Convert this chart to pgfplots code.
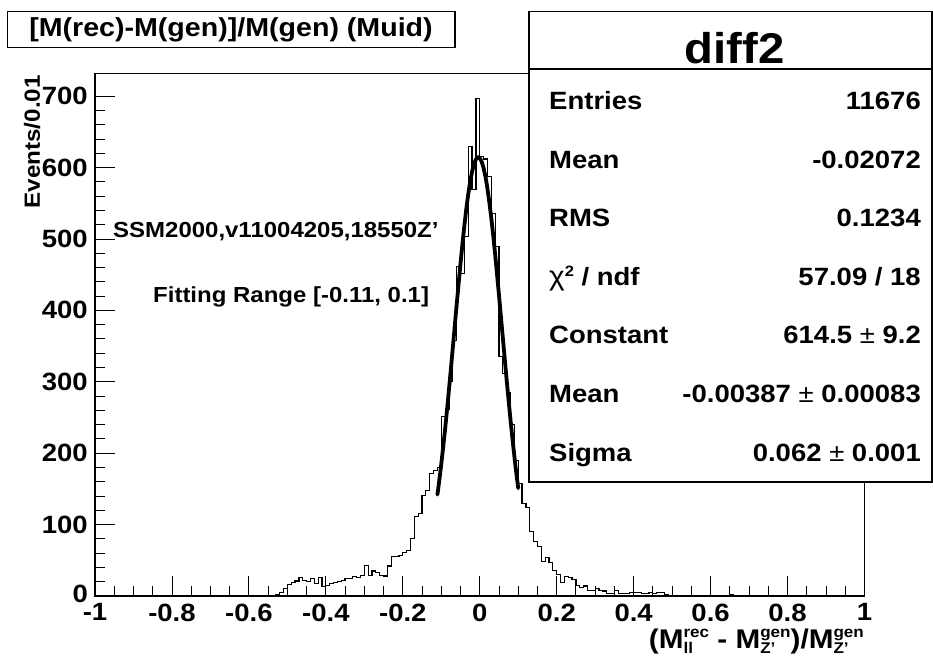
\documentclass[border=0pt]{standalone}
\usepackage{fontspec}
\setmainfont{Liberation Sans}[FakeStretch=1.1]
\usepackage{pgfplots}
\pgfplotsset{compat=1.18}
\newcommand{\fs}[1]{\fontsize{#1}{#1}\selectfont}
\newcommand{\MS}[2]{M\raisebox{-5.5pt}{\fs{15.5}\bfseries\renewcommand\arraystretch{1.06}\begin{tabular}[b]{@{}l@{}}#1\\#2\end{tabular}}}
\pgfplotstableread{
x y
-0.56 0
-0.55 0
-0.54 0
-0.53 2
-0.52 5
-0.51 10
-0.50 16
-0.49 19
-0.48 21
-0.47 26
-0.46 22
-0.45 20
-0.44 25
-0.43 18
-0.42 26
-0.41 13
-0.40 15
-0.39 18
-0.38 19
-0.37 20
-0.36 22
-0.35 24
-0.34 25
-0.33 27
-0.32 26
-0.31 29
-0.30 43
-0.29 29
-0.28 35
-0.27 33
-0.26 29
-0.25 28
-0.24 42
-0.23 55
-0.22 55
-0.21 57
-0.20 61
-0.19 64
-0.18 81
-0.17 111
-0.16 116
-0.15 141
-0.14 148
-0.13 172
-0.12 176
-0.11 180
-0.10 251
-0.09 262
-0.08 300
-0.07 358
-0.06 461
-0.05 452
-0.04 503
-0.03 629
-0.02 569
-0.01 697
0.00 615
0.01 612
0.02 587
0.03 536
0.04 489
0.05 335
0.06 312
0.07 285
0.08 240
0.09 190
0.10 158
0.11 130
0.12 124
0.13 90
0.14 76
0.15 69
0.16 48
0.17 54
0.18 47
0.19 36
0.20 30
0.21 19
0.22 27
0.23 26
0.24 23
0.25 15
0.26 12
0.27 14
0.28 8
0.29 8
0.30 11
0.31 8
0.32 7
0.33 4
0.34 4
0.35 8
0.36 4
0.37 3
0.38 3
0.39 5
0.40 5
0.41 5
0.42 3
0.43 3
0.44 5
0.45 3
0.46 5
0.47 5
0.48 2
0.49 1
0.50 1
0.51 0
0.52 0
0.53 0
0.54 0
0.55 1
0.56 0
0.57 0
0.58 0
0.59 0
0.60 0
0.61 1
0.62 1
0.63 0
0.64 0
0.65 2
0.66 0
0.67 0
0.70 0
}\histdata
\pgfplotstableread{
x y
-0.11 142.0
-0.105 162.5
-0.10 184.7
-0.095 209
-0.09 234.1
-0.085 261
-0.08 289.1
-0.075 318
-0.07 347.9
-0.065 378
-0.06 407.9
-0.055 437
-0.05 465.9
-0.045 493
-0.04 518.5
-0.035 542
-0.03 562.3
-0.025 580
-0.02 594.0
-0.015 605
-0.01 611.5
-0.005 614.3
-0.00387 614.5
0.0 613.3
0.005 608.2
0.01 599.3
0.015 587
0.02 570.6
0.025 551
0.03 529.3
0.035 505
0.04 478.4
0.045 450
0.05 421.3
0.055 391
0.06 361.5
0.065 332
0.07 302.2
0.075 274
0.08 246.1
0.085 220
0.09 195.4
0.095 172
0.10 151
}\fitdata
\begin{document}
\begin{tikzpicture}[x=1pt,y=1pt]
\useasboundingbox (0,0) rectangle (933,656);
\fill[white] (0,0) rectangle (933,656);
\begin{axis}[
  at={(95pt,60pt)}, anchor=south west,
  scale only axis, width=769.5pt, height=522.7pt,
  xmin=-1, xmax=1, ymin=0, ymax=732,
  axis line style={line width=1.2pt},
  tick pos=left, tick align=inside,
  major tick length=20pt, minor tick length=10pt,
  tick style={line width=0.9pt, black},
  xtick={-1,-0.8,-0.6,-0.4,-0.2,0,0.2,0.4,0.6,0.8,1},
  xticklabels={-1,-0.8,-0.6,-0.4,-0.2,0,0.2,0.4,0.6,0.8,1},
  ytick={0,100,200,300,400,500,600,700},
  yticklabels={\raisebox{4pt}{0},100,200,300,400,500,600,700},
  minor x tick num=3, minor y tick num=4,
  ticklabel style={font=\fs{25}\bfseries},
  xticklabel style={inner sep=0.5pt, yshift=-7pt},
  yticklabel style={inner sep=0.5pt, xshift=-6.5pt},
  clip=true,
]
\addplot[const plot, black, line width=1.2pt] table[x=x,y=y] {\histdata};
\addplot[black, line width=3.8pt, line join=round, line cap=round] table[x=x,y=y] {\fitdata};
\end{axis}
% y label
\node[rotate=90, anchor=east, font=\fs{22}\bfseries, inner sep=0pt] at (32,581) {Events/0.01};
% x label
\node[anchor=base east, font=\fs{27}\bfseries, inner sep=0pt] at (864,8)
 {(\MS{rec}{ll} - \MS{gen}{Z'})/\MS{gen}{Z'}};
% annotations
\node[anchor=base west, font=\fs{21.8}\bfseries, inner sep=0pt] at (113,418) {SSM2000,v11004205,18550Z'};
\node[anchor=base west, font=\fs{21.8}\bfseries, inner sep=0pt] at (153,353) {Fitting Range [-0.11, 0.1]};
% title box
\draw[line width=1.2pt, fill=white] (7.3,608.3) rectangle (455,644.3);
\node[font=\fs{26}\bfseries, inner sep=0pt] at (231,626.3) {[M(rec)-M(gen)]/M(gen) (Muid)};
% stats box
\draw[line width=1.2pt, fill=white] (529,174) rectangle (932,644.3);
\draw[line width=1.2pt] (529,587) -- (932,587);
\node[anchor=base, font=\fs{43}\bfseries, inner sep=0pt] at (734.5,592.7) {diff2};
\begin{scope}[every node/.style={font=\fs{25}\bfseries, inner sep=0pt}]
\node[anchor=base west] at (549,546) {Entries};
\node[anchor=base east] at (921,546) {11676};
\node[anchor=base west] at (549,487.5) {Mean};
\node[anchor=base east] at (921,487.5) {-0.02072};
\node[anchor=base west] at (549,429) {RMS};
\node[anchor=base east] at (921,429) {0.1234};
\node[anchor=base west] at (549,370.5) {{\mdseries\fs{27}χ}\raisebox{9pt}{\fs{15}\bfseries 2} / ndf};
\node[anchor=base east] at (921,370.5) {57.09 / 18};
\node[anchor=base west] at (549,312) {Constant};
\node[anchor=base east] at (921,312) {614.5 {\mdseries ±} 9.2};
\node[anchor=base west] at (549,253.5) {Mean};
\node[anchor=base east] at (921,253.5) {-0.00387 {\mdseries ±} 0.00083};
\node[anchor=base west] at (549,195) {Sigma};
\node[anchor=base east] at (921,195) {0.062 {\mdseries ±} 0.001};
\end{scope}
\end{tikzpicture}
\end{document}
